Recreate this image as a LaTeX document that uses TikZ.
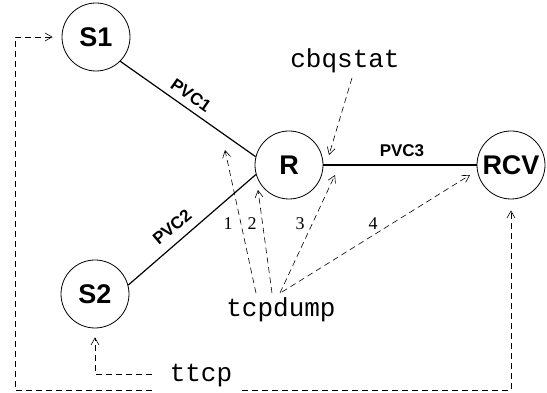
\documentclass[tikz,border=0pt]{standalone}
\usepackage{fontspec}
\setmainfont{Liberation Serif}
\setsansfont{Liberation Sans}
\setmonofont{Liberation Mono}
\usetikzlibrary{arrows.meta}

\tikzset{
  host/.style={circle, draw, line width=0.8pt, minimum size=68pt, inner sep=0pt,
    font=\sffamily\bfseries\fontsize{27}{30}\selectfont},
  link/.style={line width=1.2pt},
  pvc/.style={font=\sffamily\bfseries\fontsize{17}{19}\selectfont, inner sep=0pt},
  tool/.style={font=\ttfamily\fontsize{26}{28}\selectfont, anchor=base, inner sep=0pt},
  num/.style={font=\fontsize{18}{20}\selectfont, anchor=base, inner sep=0pt},
  tap/.style={line width=0.6pt, dash pattern=on 6pt off 4pt,
    -{Straight Barb[length=7pt,width=8pt,line width=0.6pt]}},
  tapline/.style={line width=0.6pt, dash pattern=on 6pt off 4pt}
}

\begin{document}
\begin{tikzpicture}[x=1pt, y=1pt]
			%%%%% START %%%%%
			\useasboundingbox (0,0) rectangle (547,393);
			
			% hosts and router
			\node[host] (S1) at (96,356) {S1};
			\node[host] (S2) at (95,99) {S2};
			\node[host] (R) at (289,228) {R};
			\node[host] (RCV) at (511,228) {RCV};
			
			% virtual circuits
			\draw[link] (S1.-45) -- (R.166);
			\draw[link] (S2.15) -- (R.196);
			\draw[link] (R.east) -- (RCV.west);
			\node[pvc, rotate=-35] (pvc1) at (191,298) {PVC1};
			\node[pvc, rotate=40] (pvc2) at (172,166) {PVC2};
			\node[pvc, anchor=base] (pvc3) at (402,236) {PVC3};
			
			% tools
			\node[tool] (cbq) at (345,325) {cbqstat};
			\node[tool] (tcp) at (281,76) {tcpdump};
			\node[tool] (ttcp) at (201,11) {ttcp};
			
			\draw[tap] ([shift={(7,-10)}]cbq.base) -- ([shift={(40,10)}]R.center);
			
			\draw[tap] ([shift={(-25,24)}]tcp.base) -- ([shift={(-64,15)}]R.center);
			\draw[tap] ([shift={(-9,24)}]tcp.base) -- ([shift={(-31,-25)}]R.center);
			\draw[tap] ([shift={(-1,24)}]tcp.base) -- ([shift={(46,-10)}]R.center);
			\draw[tap] ([shift={(1,25)}]tcp.base) -- ([shift={(-41,-10)}]RCV.center);
			\node[num] (n1) at (228,163) {1};
			\node[num] (n2) at (252,163) {2};
			\node[num] (n3) at (300,163) {3};
			\node[num] (n4) at (373,163) {4};
			
			% ttcp runs
			\coordinate (bl) at (152,3);
			\coordinate (br) at (242,3);
			\draw[tap] ([xshift=-18]ttcp.west |- 0,19) -| ([yshift=-9]S2.south);
			\draw[tap] (bl) -- (15,3) |- ([xshift=-9]S1.west);
			\draw[tap] (br) -| ([yshift=-11]RCV.south);
			%%%%% END %%%%%
\end{tikzpicture}
\end{document}
